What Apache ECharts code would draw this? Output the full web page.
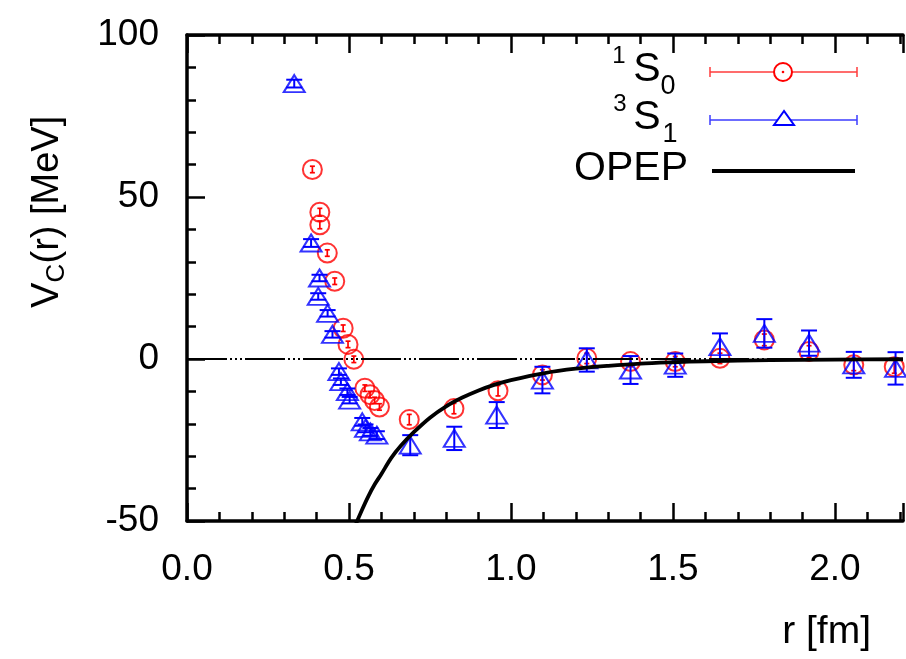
<!DOCTYPE html>
<html>
<head>
<meta charset="utf-8">
<script src="https://cdn.jsdelivr.net/npm/echarts@6/dist/echarts.min.js"></script>
<style>
  html, body { margin: 0; padding: 0; background: #fff; overflow: hidden; }
  #chart { width: 906px; height: 659px; }
</style>
</head>
<body>
<div id="chart"></div>
<script>
// Central potential V_C(r) in the 1S0 channel: r [fm], value [MeV], error [MeV]
const r1S0 = [0.387, 0.410, 0.410, 0.433, 0.456, 0.482, 0.497, 0.515, 0.549, 0.565, 0.579, 0.594,
              0.686, 0.824, 0.960, 1.097, 1.234, 1.369, 1.507, 1.645, 1.782, 1.920, 2.058, 2.183];
const v1S0 = [58.5, 45.3, 41.4, 32.7, 24.0, 9.5, 4.5, -0.1, -9.0, -11.0, -12.8, -14.8,
              -18.7, -15.3, -9.8, -4.9, 0.2, -0.8, -0.8, 0.2, 5.9, 2.3, -1.8, -2.4];
const e1S0 = [1.0, 1.2, 1.2, 1.0, 1.0, 1.0, 1.0, 1.0, 1.0, 1.0, 1.0, 1.0,
              1.6, 1.6, 1.6, 1.6, 1.6, 1.6, 1.6, 1.6, 1.8, 1.8, 1.8, 2.0];

// Central potential in the 3S1 channel
const r3S1 = [0.331, 0.383, 0.409, 0.405, 0.434, 0.449, 0.469, 0.475, 0.495, 0.502, 0.541, 0.551, 0.566, 0.586,
              0.689, 0.825, 0.956, 1.097, 1.234, 1.369, 1.507, 1.645, 1.782, 1.920, 2.058, 2.187];
const v3S1 = [85.0, 35.8, 25.0, 19.3, 14.1, 7.6, -3.9, -7.0, -10.1, -12.7, -19.4, -21.4, -22.5, -23.5,
              -26.6, -24.5, -17.3, -6.5, -0.3, -3.4, -1.9, 3.8, 7.9, 4.9, -1.8, -2.9];
const e3S1 = [1.2, 1.2, 1.0, 1.0, 1.0, 1.0, 1.0, 1.0, 1.0, 1.0, 1.2, 1.2, 1.2, 1.2,
              3.1, 3.6, 4.0, 4.1, 3.6, 4.3, 3.6, 4.1, 4.4, 3.9, 4.0, 5.0];

// One-pion-exchange potential curve
const rOPEP = [0.50, 0.52, 0.54, 0.56, 0.58, 0.60, 0.63, 0.66, 0.70, 0.75, 0.80, 0.85, 0.90, 0.95,
               1.00, 1.10, 1.20, 1.30, 1.40, 1.50, 1.60, 1.80, 2.00, 2.21];
const vOPEP = [-56.6, -51.3, -46.6, -42.3, -38.6, -35.5, -30.6, -26.8, -22.6, -18.1, -14.6, -11.9, -9.7, -7.9,
               -6.5, -4.4, -3.0, -2.1, -1.4, -1.0, -0.7, -0.34, -0.17, -0.08];

// Tick labels
const xTickValues = [0, 0.5, 1.0, 1.5, 2.0];
const xTickLabels = ['0.0', '0.5', '1.0', '1.5', '2.0'];
const yTickValues = [-50, 0, 50, 100];
const yTickLabels = ['-50', '0', '50', '100'];

const X_MAX = 2.21;
const FONT = '"Liberation Sans", Arial, Helvetica, sans-serif';
const RED = '#ff0000';
const BLUE = '#0000ff';

function tickLabel(values, labels) {
  return function (v) {
    for (let i = 0; i < values.length; i++) {
      if (Math.abs(values[i] - v) < 1e-9) return labels[i];
    }
    return '';
  };
}

// Major ticks (labelled) and a companion axis carrying the short minor ticks
function xAxes(position, showLabels) {
  return [
    {
      type: 'value', position: position, min: 0, max: X_MAX, interval: 0.5,
      axisLine: { show: true, onZero: false, lineStyle: { color: '#000', width: 3.5 } },
      axisTick: { show: true, inside: true, length: 18, lineStyle: { color: '#000', width: 2.5 } },
      splitLine: { show: false },
      axisLabel: showLabels
        ? { formatter: tickLabel(xTickValues, xTickLabels), fontSize: 37, fontFamily: FONT, color: '#000', margin: 30 }
        : { show: false }
    },
    {
      type: 'value', position: position, min: 0, max: X_MAX, interval: 0.1,
      axisLine: { show: false, onZero: false },
      axisTick: { show: true, inside: true, length: 9, lineStyle: { color: '#000', width: 2.5 } },
      splitLine: { show: false },
      axisLabel: { show: false }
    }
  ];
}

function errorBars(rs, vs, es, color, capHalf, width, z) {
  return {
    type: 'custom',
    z: z,
    silent: true,
    data: rs.map((r, i) => [r, vs[i] - es[i], vs[i] + es[i]]),
    encode: { x: 0, y: [1, 2] },
    renderItem: function (params, api) {
      const lo = api.coord([api.value(0), api.value(1)]);
      const hi = api.coord([api.value(0), api.value(2)]);
      const st = { stroke: color, lineWidth: width };
      return {
        type: 'group',
        children: [
          { type: 'line', shape: { x1: lo[0], y1: lo[1], x2: hi[0], y2: hi[1] }, style: st },
          { type: 'line', shape: { x1: lo[0] - capHalf, y1: lo[1], x2: lo[0] + capHalf, y2: lo[1] }, style: st },
          { type: 'line', shape: { x1: hi[0] - capHalf, y1: hi[1], x2: hi[0] + capHalf, y2: hi[1] }, style: st }
        ]
      };
    }
  };
}

function txt(text, x, y, size, align) {
  return {
    type: 'text', x: x, y: y, silent: true,
    style: {
      text: text, fontSize: size, fontFamily: FONT, fill: '#000',
      align: align || 'center', verticalAlign: 'middle'
    }
  };
}

function seg(x1, y1, x2, y2, color, w) {
  return { type: 'line', silent: true, shape: { x1, y1, x2, y2 }, style: { stroke: color, lineWidth: w } };
}

const chart = echarts.init(document.getElementById('chart'), null, { renderer: 'canvas' });

const option = {
  animation: false,
  backgroundColor: '#fff',
  grid: { left: 187, top: 35, bottom: 138, right: 0, containLabel: false },
  xAxis: xAxes('bottom', true).concat(xAxes('top', false)),
  yAxis: [
    {
      type: 'value', position: 'left', min: -50, max: 100, interval: 50,
      axisLine: { show: true, onZero: false, lineStyle: { color: '#000', width: 3.5 } },
      axisTick: { show: true, inside: true, length: 18, lineStyle: { color: '#000', width: 2.5 } },
      minorTick: { show: true, splitNumber: 5, length: 9, lineStyle: { color: '#000', width: 2.5 } },
      splitLine: { show: false },
      axisLabel: { formatter: tickLabel(yTickValues, yTickLabels), fontSize: 37, fontFamily: FONT, color: '#000', margin: 28 }
    }
  ],
  series: [
    Object.assign(errorBars(r1S0, v1S0, e1S0, RED, 2.5, 1.7, 2), {
      markLine: {
        silent: true, symbol: 'none', animation: false,
        label: { show: false },
        lineStyle: { color: '#000', width: 1.8, type: [40, 3, 2, 3, 2, 3, 2, 3] },
        data: [{ yAxis: 0 }]
      }
    }),
    {
      type: 'scatter', z: 2, silent: true,
      data: r1S0.map((r, i) => [r, v1S0[i]]),
      symbol: 'circle', symbolSize: 19,
      itemStyle: { color: 'rgba(255,255,255,0)', borderColor: RED, borderWidth: 2 }
    },
    errorBars(r3S1, v3S1, e3S1, BLUE, 8, 2, 3),
    {
      type: 'scatter', z: 3, silent: true,
      data: r3S1.map((r, i) => [r, v3S1[i]]),
      symbol: 'triangle', symbolSize: [21, 17],
      itemStyle: { color: 'rgba(255,255,255,0)', borderColor: BLUE, borderWidth: 2 }
    },
    {
      type: 'line', z: 4, silent: true,
      data: rOPEP.map((r, i) => [r, vOPEP[i]]),
      smooth: 0.3, showSymbol: false, symbol: 'none',
      lineStyle: { color: '#000', width: 3.8 }
    }
  ],
  graphic: [
    // axis titles
    {
      type: 'group', x: 48, y: 212, rotation: Math.PI / 2, silent: true,
      children: [
        { type: 'text', x: -96, y: 0, style: { text: 'V', fontSize: 38, fontFamily: FONT, fill: '#000', align: 'left', verticalAlign: 'middle' } },
        { type: 'text', x: -70.5, y: 9, style: { text: 'C', fontSize: 26, fontFamily: FONT, fill: '#000', align: 'left', verticalAlign: 'middle' } },
        { type: 'text', x: -51.5, y: 0, style: { text: '(r) [MeV]', fontSize: 38, fontFamily: FONT, fill: '#000', align: 'left', verticalAlign: 'middle' } }
      ]
    },
    txt('r [fm]', 871, 632, 39, 'right'),
    // key: 1S0
    txt('1', 619, 56, 24),
    txt('S', 647, 70, 41),
    txt('0', 668, 87, 27),
    seg(710, 72, 857, 72, '#ff3b3b', 1.5),
    seg(710, 67, 710, 77, '#ff3b3b', 1.5),
    seg(857, 67, 857, 77, '#ff3b3b', 1.5),
    { type: 'circle', silent: true, shape: { cx: 783, cy: 72, r: 9 }, style: { fill: '#fff', stroke: RED, lineWidth: 2 } },
    { type: 'circle', silent: true, shape: { cx: 783, cy: 72, r: 1.3 }, style: { fill: RED } },
    // key: 3S1
    txt('3', 620, 104, 24),
    txt('S', 647, 118, 41),
    txt('1', 670, 135, 27),
    seg(710, 120, 857, 120, '#3b3bff', 1.5),
    seg(710, 115, 710, 125, '#3b3bff', 1.5),
    seg(857, 115, 857, 125, '#3b3bff', 1.5),
    { type: 'polygon', silent: true, shape: { points: [[784, 111], [774, 125], [794, 125]] }, style: { fill: '#fff', stroke: BLUE, lineWidth: 2 } },
    // key: OPEP
    txt('OPEP', 688, 169, 41, 'right'),
    seg(712, 171, 855, 171, '#000', 3.8)
  ]
};

chart.setOption(option);
</script>
</body>
</html>
